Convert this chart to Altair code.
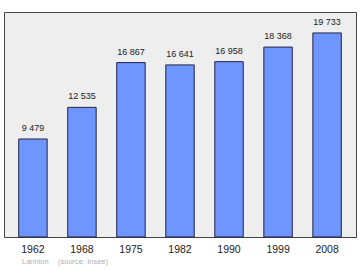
import altair as alt
import pandas as pd

years = ["1962", "1968", "1975", "1982", "1990", "1999", "2008"]
population = [9479, 12535, 16867, 16641, 16958, 18368, 19733]
labels = ["9 479", "12 535", "16 867", "16 641", "16 958", "18 368", "19 733"]

df = pd.DataFrame({"year": years, "pop": population, "label": labels})

F = "Liberation Sans"

x = alt.X("year:N", sort=years, title=None,
          scale=alt.Scale(paddingInner=0.42, paddingOuter=0.3),
          axis=alt.Axis(labelAngle=0, ticks=False, domain=False, labelPadding=7,
                        labelFontSize=10.5, labelColor="#222222", labelFont=F))
y = alt.Y("pop:Q", title=None, scale=alt.Scale(domain=[0, 21760], nice=False),
          axis=None)

bars = alt.Chart(df).mark_bar(color="#6f96ff", stroke="#222244", strokeWidth=1).encode(x=x, y=y)
text = alt.Chart(df).mark_text(dy=-11, fontSize=9, font=F, color="#222222").encode(
    x=x, y=y, text="label:N")

footer1 = alt.Chart(pd.DataFrame({"t": ["Lannion"]})).mark_text(
    align="left", fontSize=7.5, font=F, color="#b0b0b0").encode(
    x=alt.value(18), y=alt.value(250), text="t:N")
footer2 = alt.Chart(pd.DataFrame({"t": ["(source: Insee)"]})).mark_text(
    align="left", fontSize=7.5, font=F, color="#b0b0b0").encode(
    x=alt.value(54), y=alt.value(250), text="t:N")

chart = alt.layer(bars, text, footer1, footer2).properties(
    width=352, height=225,
    padding={"left": 4, "top": 12, "right": 4, "bottom": 33},
    autosize=alt.AutoSizeParams(type="none"),
    background="white",
).configure_view(fill="#eeeeee", stroke="#444444", strokeWidth=1)

chart.save("out.html", embed_options={"renderer": "svg", "actions": False})
